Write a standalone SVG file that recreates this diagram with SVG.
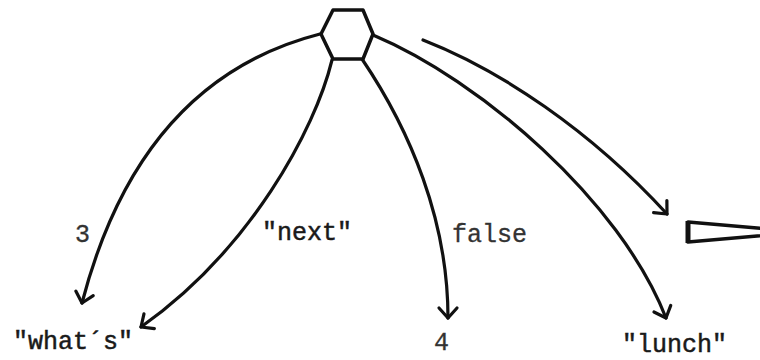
<svg xmlns="http://www.w3.org/2000/svg" width="760" height="360" viewBox="0 0 760 360">
<style>
  .edge { fill: none; stroke: #111; stroke-width: 3.2; stroke-linecap: round; }
  .lbl { font-family: "Liberation Mono", "DejaVu Sans Mono", monospace; font-size: 25px; fill: #1a1a1a; stroke: #1a1a1a; stroke-width: 0.5; }
  .soft { fill: #333; stroke: #333; stroke-width: 0.3; }
  .shape { fill: #fff; stroke: #111; stroke-width: 3.5; stroke-linejoin: round; }
</style>
<defs>
  <marker id="arr" markerUnits="userSpaceOnUse" markerWidth="30" markerHeight="30" viewBox="-15 -15 30 30" refX="0" refY="0" orient="auto">
    <path d="M-10,-9 L0,0 L-10,9" fill="none" stroke="#111" stroke-width="3.2" stroke-linecap="round" stroke-linejoin="round"/>
  </marker>
</defs>
<rect width="760" height="360" fill="#fff"/>
<g id="connectors">
  <path class="edge" d="M320,34 Q140,80 82,303" marker-end="url(#arr)"/>
  <path class="edge" d="M332,60 C315,130 250,250 141,327" marker-end="url(#arr)"/>
  <path class="edge" d="M362,59 C410,130 448,220 448,318" marker-end="url(#arr)"/>
  <path class="edge" d="M373,35 C480,80 620,200 666,318" marker-end="url(#arr)"/>
  <path class="edge" d="M423,40 C500,70 590,130 667,214" marker-end="url(#arr)"/>
</g>
<g id="hub">
  <polygon class="shape" points="333,10 363,10 373,34 363,59 333,59 321,34"/>
</g>
<g id="wedge">
  <polygon class="shape" points="688,222 805,232 688,242"/>
  <line x1="688" y1="221" x2="688" y2="243" stroke="#111" stroke-width="5"/>
</g>
<g id="label-3"><text class="lbl soft" x="75" y="242">3</text></g>
<g id="label-next"><text class="lbl" x="262" y="240">"next"</text></g>
<g id="label-false"><text class="lbl soft" x="452" y="242">false</text></g>
<g id="node-whats"><text class="lbl" x="13" y="349">"what´s"</text></g>
<g id="node-4"><text class="lbl soft" x="434" y="350">4</text></g>
<g id="node-lunch"><text class="lbl" x="622" y="352">"lunch"</text></g>
</svg>
